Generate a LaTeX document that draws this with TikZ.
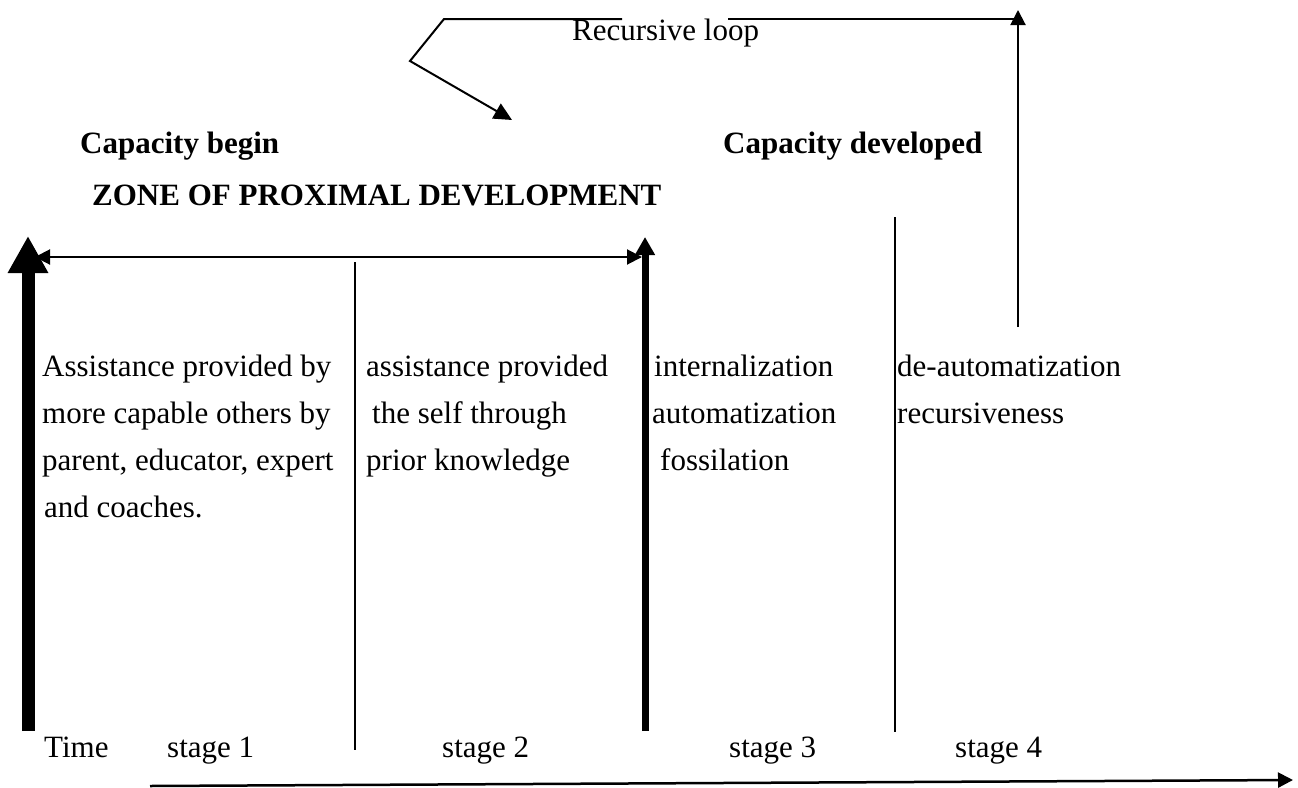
\documentclass[tikz,border=0pt]{standalone}
\usepackage{fontspec}
\setmainfont{Liberation Serif}
\usetikzlibrary{arrows.meta}

\begin{document}
\begin{tikzpicture}[x=1pt,y=-1pt,
  txt/.style={anchor=base west,inner sep=0pt,font=\fontsize{31}{37}\selectfont},
  head/.style={txt,font=\fontsize{31}{37}\selectfont\bfseries},
  thin/.style={line width=2pt},
  tri/.style={-{Triangle[length=15pt,width=15pt]}},
  bigbar/.style={line width=13pt,-{Triangle[length=37pt,width=38pt]}},
  midbar/.style={line width=7pt,-{Triangle[length=18pt,width=19pt]}}]
\useasboundingbox (0,0) rectangle (1298,787);

% end points of the connectors
\coordinate (leftBot) at (28,731);
\coordinate (leftTop) at (28,236);
\coordinate (midBot) at (645,731);
\coordinate (midTop) at (645,237);
\coordinate (zpdL) at (35,257);
\coordinate (zpdR) at (642,257);
\coordinate (div1Top) at (355,262);
\coordinate (div1Bot) at (355,750);
\coordinate (div3Top) at (895,217);
\coordinate (div3Bot) at (895,732);
\coordinate (riseBot) at (1018,327);
\coordinate (riseTop) at (1018,10);
\coordinate (loopRight) at (1018,19);
\coordinate (gapR) at (728,19);
\coordinate (gapL) at (622,19);
\coordinate (loopStart) at (444,19);
\coordinate (loopBend) at (410,61);
\coordinate (loopEnd) at (512,120);
\coordinate (timeStart) at (150,786);
\coordinate (timeEnd) at (1293,780);

% headings
\node[txt] (loop) at (572,40) {Recursive loop};
\node[head] (capBegin) at (80,153) {Capacity begin};
\node[head] (capDev) at (723,153) {Capacity developed};
\node[head] (zpd) at (92,205) {ZONE OF PROXIMAL DEVELOPMENT};

% stage 1 column
\node[txt] (a1) at (42,376) {Assistance provided by};
\node[txt] (a2) at (42,423) {more capable others by};
\node[txt] (a3) at (42,470) {parent, educator, expert};
\node[txt] (a4) at (44,517) {and coaches.};

% stage 2 column
\node[txt] (b1) at (366,376) {assistance provided};
\node[txt] (b2) at (372,423) {the self through};
\node[txt] (b3) at (366,470) {prior knowledge};

% stage 3 column
\node[txt] (c1) at (654,376) {internalization};
\node[txt] (c2) at (652,423) {automatization};
\node[txt] (c3) at (660,470) {fossilation};

% stage 4 column
\node[txt] (d1) at (897,376) {de-automatization};
\node[txt] (d2) at (897,423) {recursiveness};

% time axis labels
\node[txt] (time) at (44,757) {Time};
\node[txt] (s1) at (167,757) {stage 1};
\node[txt] (s2) at (442,757) {stage 2};
\node[txt] (s3) at (729,757) {stage 3};
\node[txt] (s4) at (955,757) {stage 4};

% zone of proximal development span
\draw[thin,{Triangle[length=15pt,width=15pt]}-{Triangle[length=15pt,width=15pt]}] (zpdL) -- (zpdR);

% thick capacity bars
\draw[bigbar] (leftBot) -- (leftTop);
\draw[midbar] (midBot) -- (midTop);

% stage dividers
\draw[thin] (div1Top) -- (div1Bot);
\draw[thin] (div3Top) -- (div3Bot);

% recursive loop
\draw[thin,tri] (riseBot) -- (riseTop);
\draw[thin] (loopRight) -- (gapR);
\draw[thin,-{Triangle[length=18pt,width=17pt]}] (gapL) -- (loopStart) -- (loopBend) -- (loopEnd);

% time axis
\draw[line width=2.5pt,tri] (timeStart) -- (timeEnd);
\end{tikzpicture}
\end{document}
